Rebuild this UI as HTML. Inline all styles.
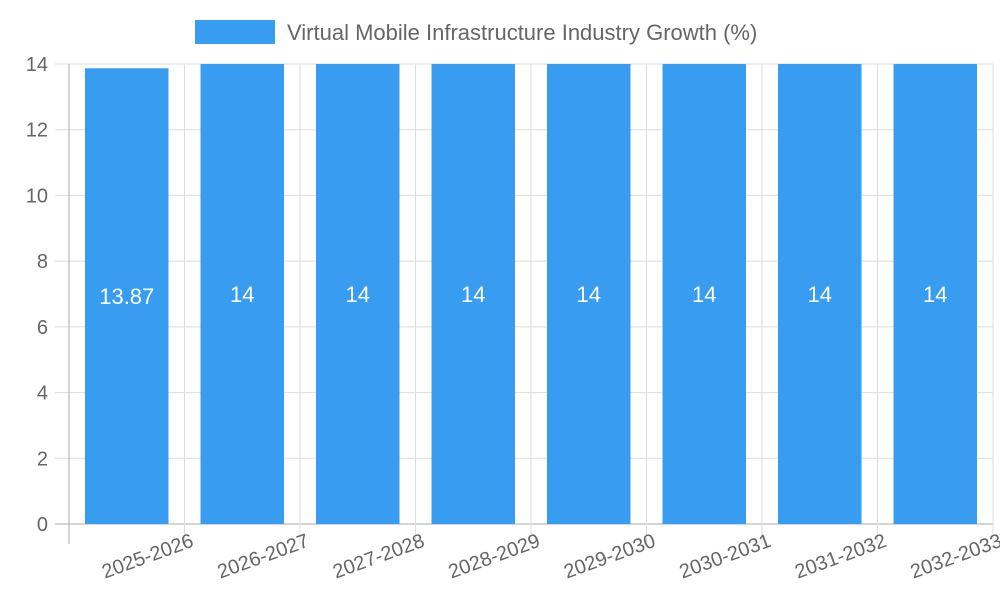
<!DOCTYPE html>
<html><head><meta charset="utf-8"><style>
body{margin:0;background:#fff;}
svg{display:block;font-family:"Liberation Sans",sans-serif;}
</style></head><body>
<svg id="chart" width="1000" height="600">
<g id="grid"></g><g id="bars"></g><g id="labels"></g>
<rect x="195" y="20" width="80" height="24" fill="#389cf0"/>
<text x="287" y="40" font-size="22" fill="#666">Virtual Mobile Infrastructure Industry Growth (%)</text>
</svg>
<script>
const categories=["2025-2026","2026-2027","2027-2028","2028-2029","2029-2030","2030-2031","2031-2032","2032-2033"];
const values=[13.87,14,14,14,14,14,14,14];
const yTicks=[0,2,4,6,8,10,12,14];
const NS="http://www.w3.org/2000/svg";
const L=69,R=993,T=64,B=524,yMax=14;
const y=v=>B-(v/yMax)*(B-T);
const bw=(R-L)/categories.length;
const x=i=>L+i*bw;
function mk(tag,attrs,parent,txt){const e=document.createElementNS(NS,tag);for(const k in attrs)e.setAttribute(k,attrs[k]);if(txt!==undefined)e.textContent=txt;document.getElementById(parent).appendChild(e);return e;}
yTicks.forEach(t=>{
  const g=mk("line",{x1:55,x2:R,y1:y(t),y2:y(t),stroke:t===0?"#aaa":"#ddd","stroke-width":1},"grid");
  
  
  const tl=mk("text",{x:48,y:y(t)+7,"text-anchor":"end","font-size":20,fill:"#666"},"labels",String(t));
  
  
});
for(let i=0;i<=categories.length;i++){
  const v=mk("line",{x1:x(i),x2:x(i),y1:T,y2:B+20,stroke:i===0?"#aaa":"#ddd","stroke-width":1},"grid");
  
  
}
categories.forEach((c,i)=>{
  const bx=x(i)+16,w=bw-32;
  const r=mk("rect",{x:bx,y:y(values[i]),width:w,height:B-y(values[i]),fill:"#389cf0"},"bars");
  
  
  const vl=mk("text",{x:bx+w/2,y:(y(values[i])+B)/2+8,"text-anchor":"middle","font-size":22,fill:"#fff"},"labels",String(values[i]));
  
  
  const cx=x(i)+bw/2+68,cy=546;
  const xl=mk("text",{x:cx,y:cy,"text-anchor":"end","font-size":20,fill:"#666",transform:`rotate(-20 ${cx} ${cy})`},"labels",c);
  
  
});
</script>
</body></html>
